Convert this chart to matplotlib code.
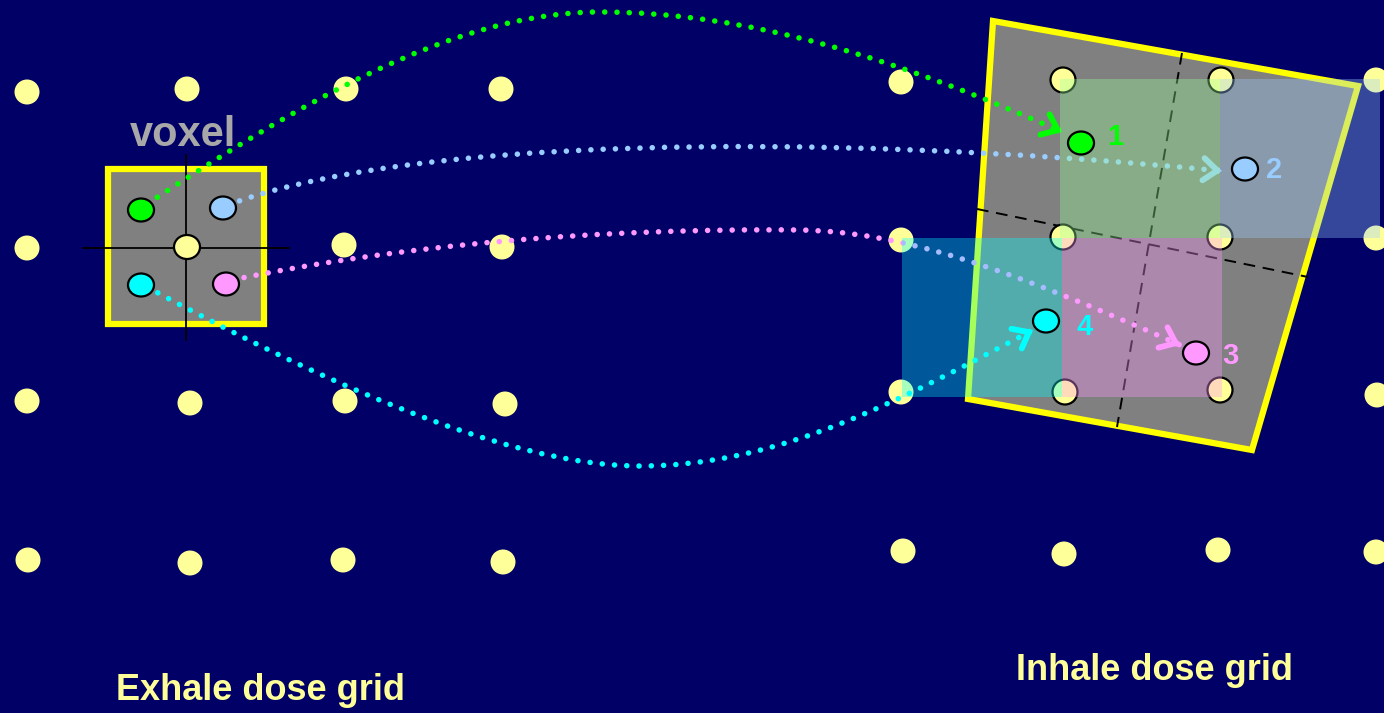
import numpy as np
import matplotlib
matplotlib.use('Agg')
import matplotlib.pyplot as plt
from matplotlib.patches import Ellipse, Polygon, Rectangle, PathPatch, FancyArrowPatch
from matplotlib.path import Path

plt.rcParams['font.family'] = ['Liberation Sans', 'DejaVu Sans']

bg = '#000066'
dot_yellow = '#FFFF99'
gray = '#808080'

# grid points in pixel coordinates (x, y from top)
exhale_dots = [(27, 92), (187, 89), (346, 89), (501, 89),
               (27, 248), (344, 245), (502, 247),
               (27, 401), (190, 403), (345, 401), (505, 404),
               (28, 560), (190, 563), (343, 560), (503, 562)]
exhale_center = (187, 247)
inhale_dots = [(901, 82), (1376, 80), (901, 240), (1376, 238),
               (901, 392), (1377, 395), (903, 551), (1064, 554),
               (1218, 550), (1376, 552)]
inhale_corner_dots = [(1063, 80), (1221, 80), (1063, 237), (1220, 237),
                      (1065, 392), (1220, 390)]

# voxel box and its four sub-points
voxel_box = (108, 169, 156, 155)
voxel_names = ['green', 'blue', 'pink', 'cyan']
voxel_pts = [(141, 210), (223, 208), (226, 284), (141, 285)]
colors = {'green': '#00FF00', 'blue': '#99CCFF', 'pink': '#FF99FF', 'cyan': '#00FFFF'}
shade_colors = {'green': '#99FF99', 'blue': '#99CCFF', 'pink': '#FF99FF', 'cyan': '#00FFFF'}

# deformed voxel on inhale grid
quad = [(993, 21), (1358, 86), (1252, 450), (968, 399)]
dash_lines = [((1182, 53), (1117, 427)), ((977, 209), (1308, 277))]

# mapped points and labels
target_pts = [(1081, 143), (1245, 169), (1196, 353), (1046, 321)]
target_labels = ['1', '2', '3', '4']
label_pts = [(1115, 137), (1274, 170), (1230, 356), (1085, 327)]

# shaded interpolation cells (x, y, w, h)
cells = [(1060, 79, 160, 159), (1220, 79, 160, 159), (1062, 238, 160, 159), (902, 238, 160, 159)]

# curve control points (cubic bezier chains)
curves = [
    [(147, 204), (290, 110), (450, 12), (600, 12), (750, 12), (900, 60), (1062, 132)],
    [(228, 205), (400, 140), (800, 130), (1222, 171)],
    [(232, 280), (400, 245), (600, 228), (800, 230), (900, 232), (1000, 265), (1180, 345)],
    [(147, 287), (300, 370), (500, 466), (640, 466), (780, 466), (900, 400), (1033, 330)],
]

fig = plt.figure(figsize=(13.84, 7.13), dpi=100)
fig.patch.set_facecolor(bg)
ax = fig.add_axes([0, 0, 1, 1])
ax.set_xlim(0, 1384)
ax.set_ylim(713, 0)
ax.set_facecolor(bg)
ax.axis('off')

# inhale quad
ax.add_patch(Polygon(quad, closed=True, facecolor=gray, edgecolor='#FFFF00', lw=4.5, zorder=1))
for p, q in dash_lines:
    ax.plot([p[0], q[0]], [p[1], q[1]], color='black', lw=1.4, ls=(0, (6, 4)), zorder=2)

# grid dots
for x, y in exhale_dots + inhale_dots:
    ax.add_patch(Ellipse((x, y), 25, 25, facecolor=dot_yellow, edgecolor='none', zorder=3))
for x, y in inhale_corner_dots:
    ax.add_patch(Ellipse((x, y), 25, 25, facecolor=dot_yellow, edgecolor='black', lw=1.6, zorder=3))

# voxel
bx, by, bw, bh = voxel_box
ax.add_patch(Rectangle((bx, by), bw, bh, facecolor=gray, edgecolor='#FFFF00', lw=4.5, zorder=3))
ax.plot([186, 186], [155, 340], color='black', lw=1.3, zorder=4)
ax.plot([83, 289], [248, 248], color='black', lw=1.3, zorder=4)
ax.add_patch(Ellipse(exhale_center, 26, 24, facecolor=dot_yellow, edgecolor='black', lw=1.6, zorder=7))
ax.text(183, 135, 'voxel', color='#A8A8A8', fontsize=30, fontweight='bold',
        ha='center', va='center', zorder=7)

# dotted trajectories with open arrow heads
for name, pts in zip(voxel_names, curves):
    n = (len(pts) - 1) // 3
    codes = [Path.MOVETO] + [Path.CURVE4] * (3 * n)
    ax.add_patch(PathPatch(Path(pts, codes), fill=False, edgecolor=colors[name], lw=4.0,
                           ls=(0, (0.01, 2.2)), capstyle='round', zorder=5))
    tip = np.array(pts[-1], float)
    d = tip - np.array(pts[-2], float)
    d /= np.hypot(*d)
    ax.add_patch(FancyArrowPatch(tip - 3 * d, tip, arrowstyle='->,head_length=1.0,head_width=0.8',
                                 mutation_scale=10, color=colors[name], lw=4.2,
                                 shrinkA=0, shrinkB=0, capstyle='round', joinstyle='miter', zorder=5))

# shaded cells
for name, (x, y, w, h) in zip(voxel_names, cells):
    ax.add_patch(Rectangle((x, y), w, h, facecolor=shade_colors[name], edgecolor='none',
                           alpha=0.35, zorder=6))

for name, (x, y) in zip(voxel_names, voxel_pts):
    ax.add_patch(Ellipse((x, y), 26, 23, facecolor=colors[name], edgecolor='black', lw=1.6, zorder=7))
for name, (x, y), lab, (lx, ly) in zip(voxel_names, target_pts, target_labels, label_pts):
    ax.add_patch(Ellipse((x, y), 26, 23, facecolor=colors[name], edgecolor='black', lw=1.6, zorder=7))
    ax.text(lx, ly, lab, color=colors[name], fontsize=21, fontweight='bold',
            ha='center', va='center', zorder=8)

ax.text(260, 690, 'Exhale dose grid', color=dot_yellow, fontsize=26, fontweight='bold',
        ha='center', va='center')
ax.text(1154, 670, 'Inhale dose grid', color=dot_yellow, fontsize=26, fontweight='bold',
        ha='center', va='center')

fig.savefig('out.png', dpi=100, facecolor=bg)
